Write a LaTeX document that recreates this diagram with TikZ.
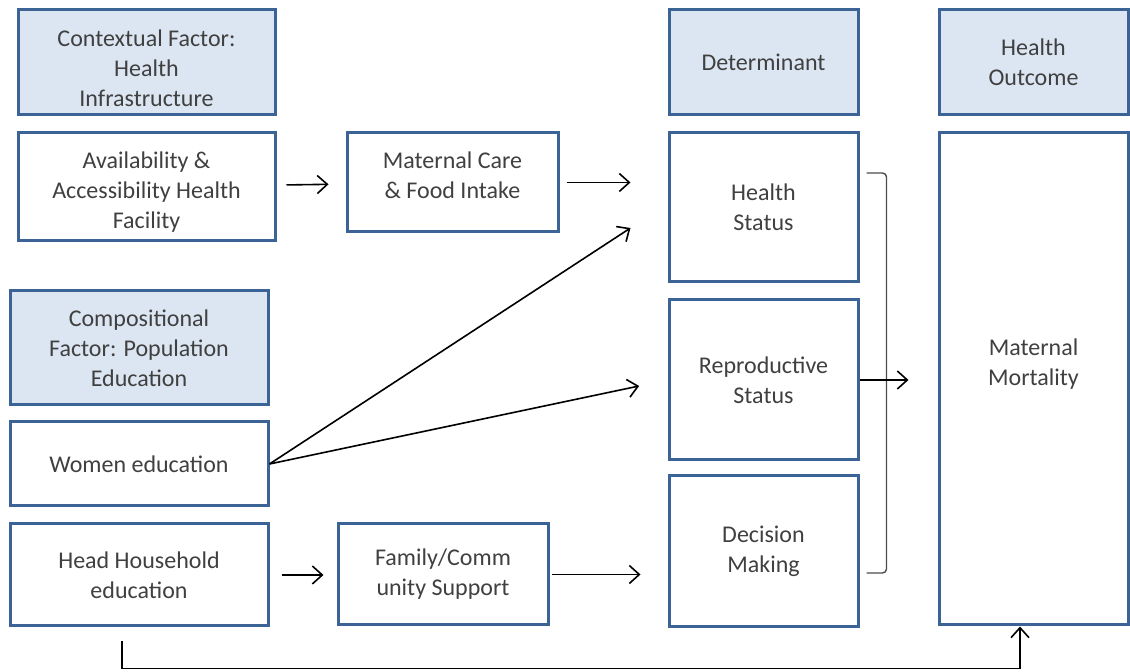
\documentclass[tikz,border=0pt]{standalone}
\usepackage{fontspec}
\setmainfont{Carlito}
\usetikzlibrary{arrows.meta,calc}

\definecolor{boxblue}{HTML}{3C6395}
\definecolor{hdrfill}{HTML}{DCE6F2}
\definecolor{txtgray}{HTML}{404040}

\begin{document}
\begin{tikzpicture}[x=0.5pt,y=-0.5pt,
        font=\fontsize{12}{15}\selectfont,
        box/.style={draw=boxblue,line width=1.5pt,fill=white,text=txtgray,align=center,inner sep=2pt},
        hdr/.style={box,fill=hdrfill},
        wh/.style 2 args={minimum width=#1,minimum height=#2},
        arr/.style={-{Straight Barb[length=5pt,width=9pt]},line width=0.8pt},
        brk/.style={draw=black!70,line width=0.7pt,rounded corners=2pt}]

    \useasboundingbox (0,0) rectangle (1130,672);

    % headers
    \node[hdr,wh={128.5pt}{52.5pt},text height=44pt] (ctx) at (146.5,62.5) {Contextual Factor:\\Health\\Infrastructure};
    \node[hdr,wh={94.5pt}{52.5pt}] (det) at (763.5,62.5) {Determinant};
    \node[hdr,wh={94.5pt}{52.5pt}] (out) at (1033.5,62.5) {Health\\Outcome};
    \node[hdr,wh={129pt}{57pt}] (cmp) at (139,348) {Compositional\\Factor: Population\\Education};

    % factors
    \node[box,wh={128.5pt}{54pt},text height=43pt] (av) at (146.5,187) {Availability \&\\Accessibility Health\\Facility};
    \node[box,wh={105.5pt}{49.5pt},text depth=7pt] (mc) at (452.5,182.5) {Maternal Care\\\& Food Intake};
    \node[box,wh={129pt}{42pt}] (we) at (139,464) {Women education};
    \node[box,wh={129pt}{51pt}] (hh) at (139,575) {Head Household\\education};
    \node[box,wh={105pt}{50.5pt}] (fc) at (443,574.5) {Family/Comm\\unity Support};

    % determinants and outcome
    \node[box,wh={94.5pt}{74.5pt}] (hs) at (763.5,207.5) {Health\\Status};
    \node[box,wh={94.5pt}{80pt}] (rs) at (763.5,380) {Reproductive\\Status};
    \node[box,wh={94.5pt}{75.5pt}] (dm) at (763.5,551.5) {Decision\\Making};
    \node[box,wh={94.5pt}{246pt},text depth=16.5pt] (mm) at (1033.5,379) {Maternal\\Mortality};

    % arrows
    \draw[arr,shorten <=5pt,shorten >=8.5pt] (av) -- (mc);
    \draw[arr,shorten <=3.5pt,shorten >=18.5pt] (mc.east) -- (mc.east -| hs.west);
    \draw[arr] (we.east) -- ($(hs.west)+(-37,20.5)$);
    \draw[arr,shorten >=14.5pt] (we.east) -- (rs.west);
    \draw[arr,shorten <=6pt,shorten >=6.5pt] (hh.east) -- (hh.east -| fc.west);
    \draw[arr,shorten <=1pt,shorten >=13.5pt] (fc.east) -- (fc.east -| dm.west);

    % bracket over the determinants
    \coordinate (bt) at ($(hs.east)+(7,-34.5)$);
    \coordinate (bb) at ($(dm.east)+(7,21.5)$);
    \draw[brk] (bt) -- ++(20,0) |- (bb);
    \draw[arr,shorten >=14.5pt] (rs.east) -- (rs.east -| mm.west);

    % direct path from household education
    \draw[arr] ([shift={(-17,14)}]hh.south) -- ++(0,27) -| ([xshift=-6.75pt]mm.south);
\end{tikzpicture}
\end{document}
